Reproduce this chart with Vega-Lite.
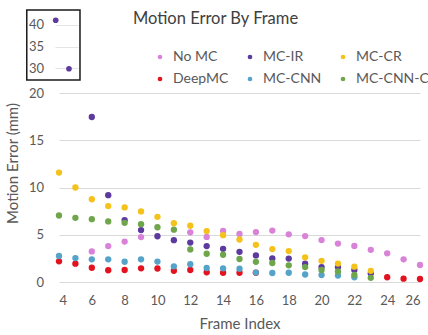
{
  "$schema": "https://vega.github.io/schema/vega-lite/v6.json",
  "width": 361,
  "height": 189,
  "autosize": "none",
  "padding": {"left": 59, "top": 93, "right": 8, "bottom": 53},
  "background": "white",
  "config": {
    "font": "Lato",
    "view": {"stroke": null},
    "axis": {"labelFont": "Lato", "titleFont": "Lato", "labelColor": "#595959", "titleColor": "#595959", "titleFontWeight": "normal"},
    "legend": {"labelFont": "Lato", "labelColor": "#595959"}
  },
  "title": {
    "text": "Motion Error By Frame",
    "font": "Lato",
    "fontSize": 16.5,
    "fontWeight": "normal",
    "color": "#404040",
    "anchor": "middle",
    "frame": "group",
    "dx": -24,
    "offset": -18
  },
  "data": {
    "values": [
      {"frame": 6, "method": "No MC", "error": 3.24},
      {"frame": 7, "method": "No MC", "error": 3.80},
      {"frame": 8, "method": "No MC", "error": 4.28},
      {"frame": 9, "method": "No MC", "error": 4.75},
      {"frame": 12, "method": "No MC", "error": 5.26},
      {"frame": 13, "method": "No MC", "error": 4.77},
      {"frame": 14, "method": "No MC", "error": 5.41},
      {"frame": 15, "method": "No MC", "error": 5.09},
      {"frame": 16, "method": "No MC", "error": 5.28},
      {"frame": 17, "method": "No MC", "error": 5.44},
      {"frame": 18, "method": "No MC", "error": 5.04},
      {"frame": 19, "method": "No MC", "error": 4.86},
      {"frame": 20, "method": "No MC", "error": 4.44},
      {"frame": 21, "method": "No MC", "error": 4.07},
      {"frame": 22, "method": "No MC", "error": 3.82},
      {"frame": 23, "method": "No MC", "error": 3.40},
      {"frame": 24, "method": "No MC", "error": 3.03},
      {"frame": 25, "method": "No MC", "error": 2.40},
      {"frame": 26, "method": "No MC", "error": 1.80},
      {"frame": 4, "method": "MC-IR", "error": 41.1},
      {"frame": 5, "method": "MC-IR", "error": 29.9},
      {"frame": 6, "method": "MC-IR", "error": 17.46},
      {"frame": 7, "method": "MC-IR", "error": 9.19},
      {"frame": 8, "method": "MC-IR", "error": 6.55},
      {"frame": 9, "method": "MC-IR", "error": 5.49},
      {"frame": 10, "method": "MC-IR", "error": 4.84},
      {"frame": 11, "method": "MC-IR", "error": 4.43},
      {"frame": 12, "method": "MC-IR", "error": 4.17},
      {"frame": 13, "method": "MC-IR", "error": 3.80},
      {"frame": 14, "method": "MC-IR", "error": 3.51},
      {"frame": 15, "method": "MC-IR", "error": 3.19},
      {"frame": 16, "method": "MC-IR", "error": 2.81},
      {"frame": 17, "method": "MC-IR", "error": 2.50},
      {"frame": 18, "method": "MC-IR", "error": 2.48},
      {"frame": 19, "method": "MC-IR", "error": 1.93},
      {"frame": 20, "method": "MC-IR", "error": 1.58},
      {"frame": 21, "method": "MC-IR", "error": 1.58},
      {"frame": 22, "method": "MC-IR", "error": 1.27},
      {"frame": 23, "method": "MC-IR", "error": 0.89},
      {"frame": 4, "method": "MC-CR", "error": 11.58},
      {"frame": 5, "method": "MC-CR", "error": 10.0},
      {"frame": 6, "method": "MC-CR", "error": 8.76},
      {"frame": 7, "method": "MC-CR", "error": 8.03},
      {"frame": 8, "method": "MC-CR", "error": 7.89},
      {"frame": 9, "method": "MC-CR", "error": 7.47},
      {"frame": 10, "method": "MC-CR", "error": 6.90},
      {"frame": 11, "method": "MC-CR", "error": 6.23},
      {"frame": 12, "method": "MC-CR", "error": 5.95},
      {"frame": 13, "method": "MC-CR", "error": 5.39},
      {"frame": 14, "method": "MC-CR", "error": 4.96},
      {"frame": 15, "method": "MC-CR", "error": 4.50},
      {"frame": 16, "method": "MC-CR", "error": 3.93},
      {"frame": 17, "method": "MC-CR", "error": 3.48},
      {"frame": 18, "method": "MC-CR", "error": 3.27},
      {"frame": 19, "method": "MC-CR", "error": 2.61},
      {"frame": 20, "method": "MC-CR", "error": 2.24},
      {"frame": 21, "method": "MC-CR", "error": 1.95},
      {"frame": 22, "method": "MC-CR", "error": 1.62},
      {"frame": 23, "method": "MC-CR", "error": 1.18},
      {"frame": 4, "method": "DeepMC", "error": 2.19},
      {"frame": 5, "method": "DeepMC", "error": 1.94},
      {"frame": 6, "method": "DeepMC", "error": 1.51},
      {"frame": 7, "method": "DeepMC", "error": 1.24},
      {"frame": 8, "method": "DeepMC", "error": 1.27},
      {"frame": 9, "method": "DeepMC", "error": 1.45},
      {"frame": 10, "method": "DeepMC", "error": 1.43},
      {"frame": 11, "method": "DeepMC", "error": 1.19},
      {"frame": 12, "method": "DeepMC", "error": 1.27},
      {"frame": 13, "method": "DeepMC", "error": 1.03},
      {"frame": 14, "method": "DeepMC", "error": 0.98},
      {"frame": 15, "method": "DeepMC", "error": 0.98},
      {"frame": 16, "method": "DeepMC", "error": 0.98},
      {"frame": 24, "method": "DeepMC", "error": 0.50},
      {"frame": 25, "method": "DeepMC", "error": 0.35},
      {"frame": 26, "method": "DeepMC", "error": 0.32},
      {"frame": 4, "method": "MC-CNN", "error": 2.75},
      {"frame": 5, "method": "MC-CNN", "error": 2.53},
      {"frame": 6, "method": "MC-CNN", "error": 2.40},
      {"frame": 7, "method": "MC-CNN", "error": 2.40},
      {"frame": 8, "method": "MC-CNN", "error": 2.14},
      {"frame": 9, "method": "MC-CNN", "error": 2.40},
      {"frame": 10, "method": "MC-CNN", "error": 2.16},
      {"frame": 11, "method": "MC-CNN", "error": 1.66},
      {"frame": 12, "method": "MC-CNN", "error": 1.88},
      {"frame": 13, "method": "MC-CNN", "error": 1.48},
      {"frame": 14, "method": "MC-CNN", "error": 1.45},
      {"frame": 15, "method": "MC-CNN", "error": 1.40},
      {"frame": 16, "method": "MC-CNN", "error": 1.00},
      {"frame": 17, "method": "MC-CNN", "error": 0.95},
      {"frame": 18, "method": "MC-CNN", "error": 0.98},
      {"frame": 19, "method": "MC-CNN", "error": 0.79},
      {"frame": 20, "method": "MC-CNN", "error": 0.74},
      {"frame": 21, "method": "MC-CNN", "error": 0.69},
      {"frame": 22, "method": "MC-CNN", "error": 0.50},
      {"frame": 4, "method": "MC-CNN-C", "error": 7.04},
      {"frame": 5, "method": "MC-CNN-C", "error": 6.79},
      {"frame": 6, "method": "MC-CNN-C", "error": 6.65},
      {"frame": 7, "method": "MC-CNN-C", "error": 6.41},
      {"frame": 8, "method": "MC-CNN-C", "error": 6.26},
      {"frame": 9, "method": "MC-CNN-C", "error": 6.12},
      {"frame": 10, "method": "MC-CNN-C", "error": 5.79},
      {"frame": 11, "method": "MC-CNN-C", "error": 5.54},
      {"frame": 12, "method": "MC-CNN-C", "error": 3.45},
      {"frame": 13, "method": "MC-CNN-C", "error": 2.99},
      {"frame": 14, "method": "MC-CNN-C", "error": 2.88},
      {"frame": 15, "method": "MC-CNN-C", "error": 2.43},
      {"frame": 16, "method": "MC-CNN-C", "error": 2.13},
      {"frame": 17, "method": "MC-CNN-C", "error": 2.01},
      {"frame": 18, "method": "MC-CNN-C", "error": 1.76},
      {"frame": 19, "method": "MC-CNN-C", "error": 1.58},
      {"frame": 20, "method": "MC-CNN-C", "error": 1.27},
      {"frame": 21, "method": "MC-CNN-C", "error": 1.11},
      {"frame": 22, "method": "MC-CNN-C", "error": 0.74},
      {"frame": 23, "method": "MC-CNN-C", "error": 0.44}
    ]
  },
  "layer": [
    {
      "transform": [{"filter": "datum.error <= 20"}],
      "mark": {"type": "circle", "size": 40, "opacity": 1},
      "encoding": {
        "x": {
          "field": "frame", "type": "quantitative",
          "scale": {"domain": [4, 26], "nice": false, "zero": false},
          "axis": {
            "values": [4, 6, 8, 10, 12, 14, 16, 18, 20, 22, 24, 26],
            "grid": false, "domain": false, "ticks": false,
            "labelFontSize": 13, "labelPadding": 12,
            "title": "Frame Index", "titleFontSize": 15, "titlePadding": 9
          }
        },
        "y": {
          "field": "error", "type": "quantitative",
          "scale": {"domain": [0, 20], "nice": false},
          "axis": {
            "values": [0, 5, 10, 15, 20],
            "grid": true, "gridColor": "#d9d9d9", "domain": false, "ticks": false, "tickSize": 0,
            "labelFontSize": 13, "labelPadding": 15.5,
            "title": "Motion Error (mm)", "titleFontSize": 15,
            "titleX": -47, "titleY": 70, "titleBaseline": "middle"
          }
        },
        "color": {
          "field": "method", "type": "nominal",
          "scale": {
            "domain": ["No MC", "MC-IR", "MC-CR", "DeepMC", "MC-CNN", "MC-CNN-C"],
            "range": ["#d883d8", "#5c3a9e", "#f5c21b", "#e3121e", "#55a3c8", "#6fa64c"]
          },
          "legend": {
            "title": null, "orient": "none", "legendX": 94, "legendY": -43,
            "direction": "horizontal",
            "columns": 3, "gridAlign": "each", "columnPadding": 14, "rowPadding": 8,
            "symbolType": "circle", "symbolSize": 22, "symbolStrokeWidth": 0,
            "labelFontSize": 14, "labelOffset": 6
          }
        }
      }
    },
    {
      "transform": [{"filter": "datum.error > 20"}],
      "layer": [
        {
          "mark": {"type": "circle", "size": 32, "opacity": 1},
          "encoding": {
            "x": {
              "field": "frame", "type": "quantitative",
              "scale": {"domain": [3.947, 5.68], "range": [-4, 19], "nice": false, "zero": false},
              "axis": null
            },
            "y": {
              "field": "error", "type": "quantitative",
              "scale": {"domain": [27.3, 43.46], "range": [-13, -83], "nice": false, "zero": false},
              "axis": {
                "orient": "left", "values": [30, 35, 40],
                "grid": true, "gridColor": "#e4e4e4", "domain": false, "ticks": false, "tickSize": 0,
                "labelFontSize": 13, "labelPadding": 15.5, "title": null
              }
            },
            "color": {"field": "method", "type": "nominal"}
          }
        },
        {
          "data": {"values": [{}]},
          "mark": {"type": "rect", "fill": null, "stroke": "#1a1a1a", "strokeWidth": 1.5},
          "encoding": {
            "x": {"datum": 1.82, "type": "quantitative"},
            "x2": {"datum": 5.83},
            "y": {"datum": 27.3, "type": "quantitative"},
            "y2": {"datum": 43.46}
          }
        }
      ]
    }
  ],
  "resolve": {"scale": {"x": "independent", "y": "independent"}}
}
